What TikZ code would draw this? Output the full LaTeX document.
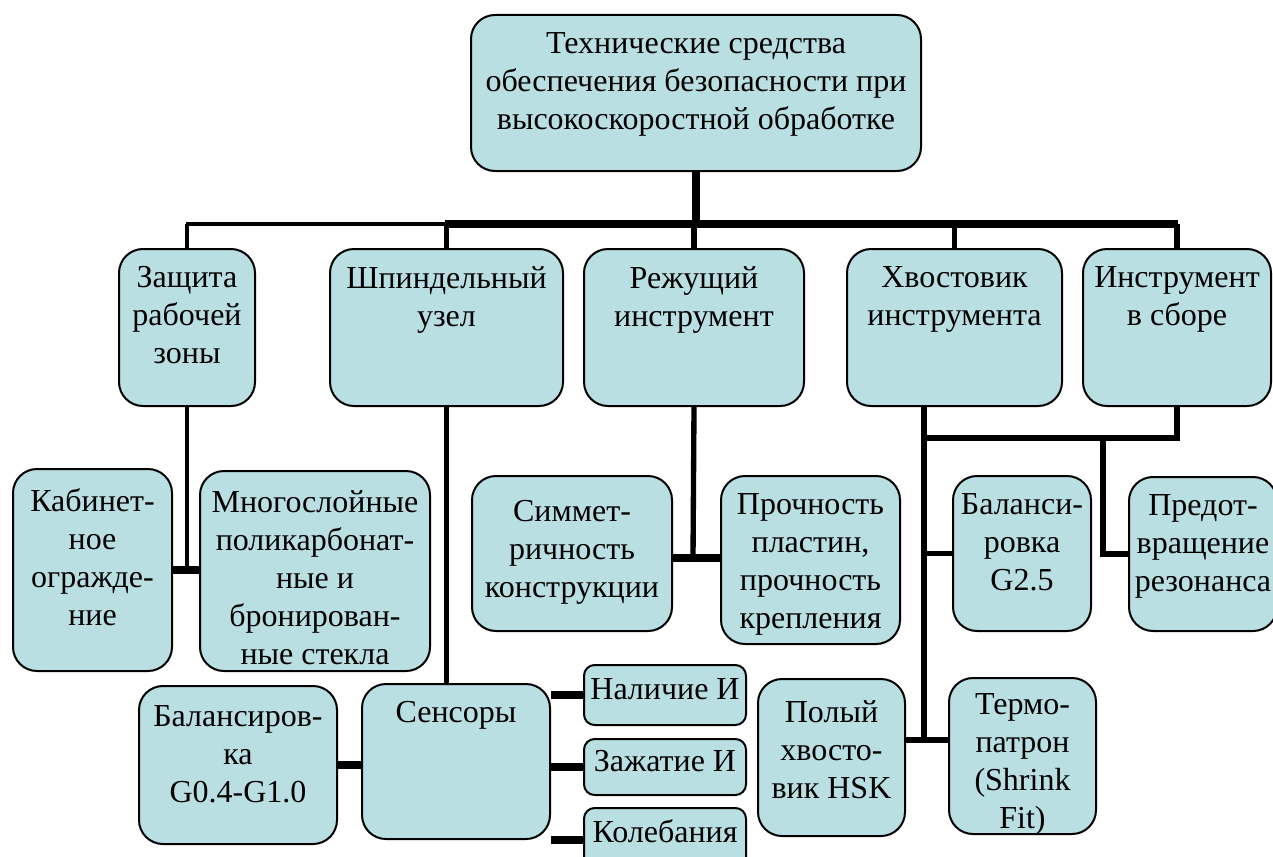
\documentclass[tikz,border=0pt]{standalone}
\usepackage{fontspec}
\setmainfont{Liberation Serif}
\newfontfamily\tnr{Liberation Serif}
\usetikzlibrary{backgrounds}
\definecolor{boxfill}{RGB}{185,223,227}
\tikzset{
  box/.style={draw=black, line width=1.5pt, fill=boxfill, rounded corners=18pt, inner sep=0pt},
  sbox/.style={box, rounded corners=8pt},
  txt/.style={inner sep=0pt, align=center, font=\tnr\fontsize{24}{28.6}\selectfont},
  conn/.style={line width=4pt},
  thinconn/.style={line width=3pt},
  thickconn/.style={line width=6pt},
}
% name, x1, y1, x2, y2, top pad (px), style, text
\newcommand\mybox[8]{%
  \node[#7, anchor=north west, minimum width={(#4-#2)*0.75pt}, minimum height={(#5-#3)*0.75pt}] (#1) at (#2,#3) {};
  \node[txt, anchor=north] (#1t) at ([yshift={-#6*0.75pt}]#1.north) {#8};}
\begin{document}
\begin{tikzpicture}[x=0.75pt,y=-0.75pt]
\useasboundingbox (0,0) rectangle (1273,856);
\clip (0,0) rectangle (1273,856);
\coordinate (barL) at (186,224);
\coordinate (barM) at (445,224);
\coordinate (barR) at (1178,224);
\coordinate (rezJ) at (693,558);
\coordinate (hvT) at (924,438);
\coordinate (hvB) at (924,740);
\coordinate (predX) at (1103,438);

\mybox{top}{470}{14}{920}{170}{18}{box}{\fontsize{24}{30}\selectfont Технические средства\\обеспечения безопасности при\\высокоскоростной обработке}

\mybox{zash}{118}{248}{254}{405}{18}{box}{Защита\\рабочей\\зоны}
\mybox{shp}{329}{248}{562}{405}{18}{box}{Шпиндельный\\узел}
\mybox{rez}{583}{248}{803}{405}{18}{box}{Режущий\\инструмент}
\mybox{hv}{846}{248}{1061}{405}{18}{box}{Хвостовик\\инструмента}
\mybox{inst}{1082}{248}{1270}{405}{18}{box}{Инструмент\\в сборе}

\mybox{kab}{12}{468}{171}{670}{20}{box}{Кабинет-\\ное\\огражде-\\ние}
\mybox{mnog}{199}{470}{429}{670}{20}{box}{Многослойные\\поликарбонат-\\ные и\\бронирован-\\ные стекла}
\mybox{sim}{471}{475}{671}{630}{25}{box}{Симмет-\\ричность\\конструкции}
\mybox{pro}{720}{475}{899}{643}{18}{box}{Прочность\\пластин,\\прочность\\крепления}
\mybox{bal25}{952}{475}{1090}{630}{18}{box}{Баланси-\\ровка\\G2.5}
\mybox{pred}{1128}{476}{1276}{630}{18}{box}{Предот-\\вращение\\резонанса}

\mybox{bal}{138}{685}{336}{843}{20}{box}{Балансиров-\\ка\\G0.4-G1.0}
\mybox{sens}{361}{683}{549}{838}{18}{box}{Сенсоры}
\mybox{nal}{583}{664}{745}{724}{14}{sbox}{Наличие И}
\mybox{zaj}{583}{738}{745}{794}{12}{sbox}{Зажатие И}
\mybox{kol}{583}{807}{745}{870}{12}{sbox}{Колебания}
\mybox{pol}{757}{678}{904}{835}{22}{box}{Полый\\хвосто-\\вик HSK}
\mybox{term}{948}{677}{1095}{833}{16}{box}{Термо-\\патрон\\(Shrink\\Fit)}

\begin{scope}[on background layer]
\draw[thickconn] (top.south) -- (top.south |- barM);
\draw[thinconn] (barL) -- (barM);
\draw[thickconn] (barM) -- (barR);
\draw[thinconn] (zash.north) -- (zash.north |- barL);
\draw[conn] (shp.north) -- (shp.north |- barL);
\draw[conn] (rez.north) -- (rez.north |- barL);
\draw[conn] (hv.north) -- (hv.north |- barL);
\draw[conn] (inst.north) -- (inst.north |- barL);

\draw[thinconn] (zash.south) -- (zash.south |- kab.east);
\draw[thickconn] (kab.east) -- (kab.east -| mnog.west);

\draw[conn] (shp.south) -- (shp.south |- sens.north);
\draw[thickconn] (bal.east) -- (bal.east -| sens.west);
\draw[thickconn] (nal.west -| sens.east) -- (nal.west);
\draw[thickconn] (zaj.west -| sens.east) -- (zaj.west);
\draw[thickconn] (kol.west -| sens.east) -- (kol.west);

\draw[conn] (rez.south) -- (rezJ);
\draw[thickconn] (sim.east |- rezJ) -- (pro.west |- rezJ);

\draw[conn] (hvT |- hv.south) -- (hvB);
\draw[conn] (hvT) -- (hvT -| inst.south) -- (inst.south);
\draw[conn] (hvT |- bal25.west) -- (bal25.west);
\draw[conn] (pol.east |- hvB) -- (term.west |- hvB);
\draw[conn] (predX) -- (predX |- pred.west) -- (pred.west);
\end{scope}
\end{tikzpicture}
\end{document}
